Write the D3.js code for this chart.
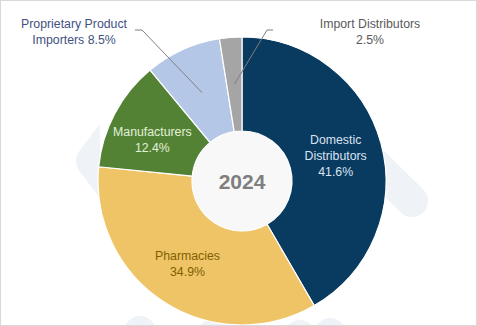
<!DOCTYPE html>
<html><head><meta charset="utf-8">
<script src="https://cdn.jsdelivr.net/npm/d3@7"></script>
<style>html,body{margin:0;padding:0;background:#fff;overflow:hidden}</style>
</head><body>
<svg id="c" width="477" height="326"></svg>
<script>
const categories = ["Domestic Distributors", "Pharmacies", "Manufacturers", "Proprietary Product Importers", "Import Distributors"];
const values = [41.6, 34.9, 12.4, 8.5, 2.5];
const valueLabels = ["41.6%", "34.9%", "12.4%", "8.5%", "2.5%"];
const centerTitle = "2024";

const colors = ["#093A5F", "#EEC466", "#548235", "#B4C7E7", "#A5A5A5"];
const labelColors = ["#DAE3F3", "#7F6000", "#E2F0D9", "#3F5281", "#5A5A5A"];

const W = 477, H = 326, cx = 242, cy = 181, rOuter = 144, rInner = 50;
const svg = d3.select("#c");
const font = "'Liberation Sans', Arial, sans-serif";

// watermark
const wm = svg.append("g").attr("fill", "none").attr("stroke", "#EFF3F7").attr("stroke-linecap", "round");
wm.append("line").attr("x1", 340).attr("y1", 130).attr("x2", 412).attr("y2", 201).attr("stroke-width", 32);
wm.append("path").attr("d", "M100,124 L80,150 Q72,161 80,172 L100,198 Z").attr("fill", "#EFF3F7").attr("stroke", "none");
[[140, 332], [214, 334], [300, 336], [330, 334]].forEach(p => {
  wm.append("circle").attr("cx", p[0]).attr("cy", p[1]).attr("r", 16).attr("fill", "#EFF3F7").attr("stroke", "none");
});

const g = svg.append("g").attr("transform", `translate(${cx},${cy})`);
const pie = d3.pie().sort(null).value(d => d);
const arcs = pie(values);
const arc = d3.arc().innerRadius(rInner).outerRadius(rOuter);

g.selectAll("path.slice").data(arcs).join("path")
  .attr("class", "slice")
  .attr("d", arc)
  .attr("fill", (d, i) => colors[i])
  .attr("stroke", "#fff").attr("stroke-width", 1.2);

g.append("circle").attr("r", rInner - 0.5).attr("fill", "#F8F8F8");

g.append("text").attr("x", 0).attr("y", 8).attr("text-anchor", "middle")
  .attr("font-family", font).attr("font-weight", "bold").attr("font-size", 21)
  .attr("fill", "#7F7F7F").text(centerTitle);

// inside labels
const inside = [
  { i: 0, lines: ["Domestic", "Distributors", valueLabels[0]], dx: 0, dy: 0 },
  { i: 1, lines: ["Pharmacies", valueLabels[1]], dx: -2, dy: 1 },
  { i: 2, lines: ["Manufacturers", valueLabels[2]], dx: -4, dy: 5 }
];
const lh = 16;
inside.forEach(o => {
  const [x0, y0] = arc.centroid(arcs[o.i]);
  const x = x0 + o.dx, y = y0 + o.dy;
  const t = g.append("text").attr("text-anchor", "middle")
    .attr("font-family", font).attr("font-size", 12.3).attr("fill", labelColors[o.i]);
  const n = o.lines.length;
  o.lines.forEach((s, k) => {
    t.append("tspan").attr("x", x).attr("y", y + (k - (n - 1) / 2) * lh + 4).text(s);
  });
});

// outside labels with leader lines
const outside = [
  { i: 3, lines: ["Proprietary Product", "Importers " + valueLabels[3]], tx: 74 - cx, ty: 24 - cy, lx: -107, ex: -100 },
  { i: 4, lines: ["Import Distributors", valueLabels[4]], tx: 370 - cx, ty: 24 - cy, lx: 31, ex: 25 }
];
outside.forEach(o => {
  const [x, y] = arc.centroid(arcs[o.i]);
  const ly = 30 - cy;
  g.append("polyline")
    .attr("points", `${o.lx},${ly} ${o.ex},${ly} ${x},${y}`)
    .attr("fill", "none").attr("stroke", "#7F7F7F").attr("stroke-width", 1);
  const t = g.append("text").attr("text-anchor", "middle")
    .attr("font-family", font).attr("font-size", 12.3).attr("fill", labelColors[o.i]);
  o.lines.forEach((s, k) => {
    t.append("tspan").attr("x", o.tx).attr("y", o.ty + k * lh + 4).text(s);
  });
});

svg.append("rect").attr("x", 0.5).attr("y", 0.5).attr("width", W - 1).attr("height", H - 1)
  .attr("fill", "none").attr("stroke", "#D9D9D9");
</script>
</body></html>
